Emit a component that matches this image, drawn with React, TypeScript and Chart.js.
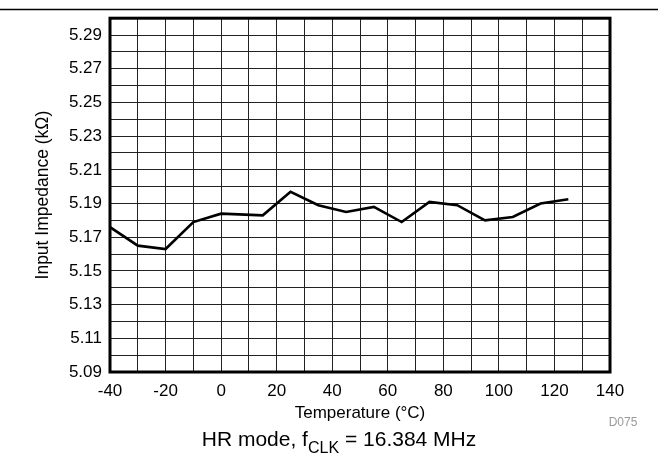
import React, { useEffect, useRef } from "react";
import { Chart, registerables } from "chart.js";

Chart.register(...registerables);

const temperatures = [-40, -30, -20, -10, 0, 15, 25, 35, 45, 55, 65, 75, 85, 95, 105, 115, 125];
const impedance = [5.176, 5.165, 5.163, 5.179, 5.184, 5.183, 5.197, 5.189, 5.185, 5.188, 5.179, 5.191, 5.189, 5.18, 5.182, 5.19, 5.1925];

const xTickLabels = [-40, -20, 0, 20, 40, 60, 80, 100, 120, 140];
const yTickLabels = ["5.09", "5.11", "5.13", "5.15", "5.17", "5.19", "5.21", "5.23", "5.25", "5.27", "5.29"];
const xMin = -40;
const xMax = 140;
const xGridStep = 10;
const yMin = 5.09;
const yMax = 5.3;
const yGridStep = 0.01;

const xTitle = "Temperature (\u00B0C)";
const yTitle = "Input Impedance (k\u03A9)";
const captionMain = "HR mode, f";
const captionSub = "CLK";
const captionRest = " = 16.384 MHz";
const figId = "D075";

const FONT = "'Liberation Sans', Arial, Helvetica, sans-serif";

const decorPlugin = {
  id: "decor",
  afterDraw(chart: any) {
    const { ctx, chartArea } = chart;
    const { left, right, top, bottom } = chartArea;
    ctx.save();
    // frame
    ctx.strokeStyle = "#000";
    ctx.lineWidth = 3;
    ctx.strokeRect(left, top, right - left, bottom - top);
    // top rule
    ctx.lineWidth = 1.3;
    ctx.beginPath();
    ctx.moveTo(0, 9.5);
    ctx.lineTo(chart.width, 9.5);
    ctx.stroke();
    // figure id
    ctx.fillStyle = "#9a9a9a";
    ctx.font = `12px ${FONT}`;
    ctx.textAlign = "center";
    ctx.textBaseline = "middle";
    ctx.fillText(figId, 623, 423);
    // caption with subscript
    ctx.fillStyle = "#000";
    ctx.textAlign = "left";
    ctx.textBaseline = "alphabetic";
    const mainFont = `21px ${FONT}`;
    const subFont = `16px ${FONT}`;
    ctx.font = mainFont;
    const w1 = ctx.measureText(captionMain).width;
    const w3 = ctx.measureText(captionRest).width;
    ctx.font = subFont;
    const w2 = ctx.measureText(captionSub).width;
    const total = w1 + w2 + w3;
    let x = 339 - total / 2;
    const base = 446;
    ctx.font = mainFont;
    ctx.fillText(captionMain, x, base);
    x += w1;
    ctx.font = subFont;
    ctx.fillText(captionSub, x, base + 7);
    x += w2;
    ctx.font = mainFont;
    ctx.fillText(captionRest, x, base);
    ctx.restore();
  },
};

export default function App() {
  const canvasRef = useRef<HTMLCanvasElement | null>(null);

  useEffect(() => {
    const canvas = canvasRef.current;
    if (!canvas) return;
    Chart.defaults.font.family = FONT;
    const chart = new Chart(canvas, {
      type: "line",
      data: {
        datasets: [
          {
            data: temperatures.map((t, i) => ({ x: t, y: impedance[i] })),
            borderColor: "#000",
            borderWidth: 2.6,
            pointRadius: 0,
            tension: 0,
            fill: false,
          },
        ],
      },
      options: {
        responsive: false,
        animation: false,
        events: [],
        layout: { padding: { left: 0, top: 18, right: 48, bottom: 0 } },
        plugins: { legend: { display: false }, tooltip: { enabled: false } },
        scales: {
          x: {
            type: "linear",
            min: xMin,
            max: xMax,
            ticks: {
              stepSize: xGridStep,
              autoSkip: false,
              maxRotation: 0,
              padding: 9,
              color: "#000",
              font: { size: 17 },
              callback: (v: any) => (xTickLabels.includes(Number(v)) ? String(v) : ""),
            },
            grid: { color: "#222", lineWidth: 1, drawTicks: false },
            border: { display: false },
            title: {
              display: true,
              text: xTitle,
              color: "#000",
              font: { size: 17 },
              padding: { top: 0, bottom: 47 },
            },
            afterFit: (s: any) => {
              s.height = 99;
            },
          },
          y: {
            type: "linear",
            min: yMin,
            max: yMax,
            afterBuildTicks: (s: any) => {
              const n = Math.round((yMax - yMin) / yGridStep);
              const t = [];
              for (let i = 0; i <= n; i++) t.push({ value: +(yMin + i * yGridStep).toFixed(2) });
              s.ticks = t;
            },
            ticks: {
              autoSkip: false,
              padding: 8,
              color: "#000",
              font: { size: 17 },
              callback: (v: any) => {
                const s = Number(v).toFixed(2);
                return yTickLabels.includes(s) ? s : "";
              },
            },
            grid: { color: "#222", lineWidth: 1, drawTicks: false },
            border: { display: false },
            title: {
              display: true,
              text: yTitle,
              color: "#000",
              font: { size: 17.5 },
              padding: { top: 33, bottom: 0 },
            },
            afterFit: (s: any) => {
              s.width = 110;
            },
          },
        },
      },
      plugins: [decorPlugin],
    } as any);
    return () => chart.destroy();
  }, []);

  return (
    <div style={{ position: "absolute", left: 0, top: 0, width: 658, height: 471, background: "#fff" }}>
      <canvas ref={canvasRef} width={658} height={471} style={{ display: "block" }} />
    </div>
  );
}
